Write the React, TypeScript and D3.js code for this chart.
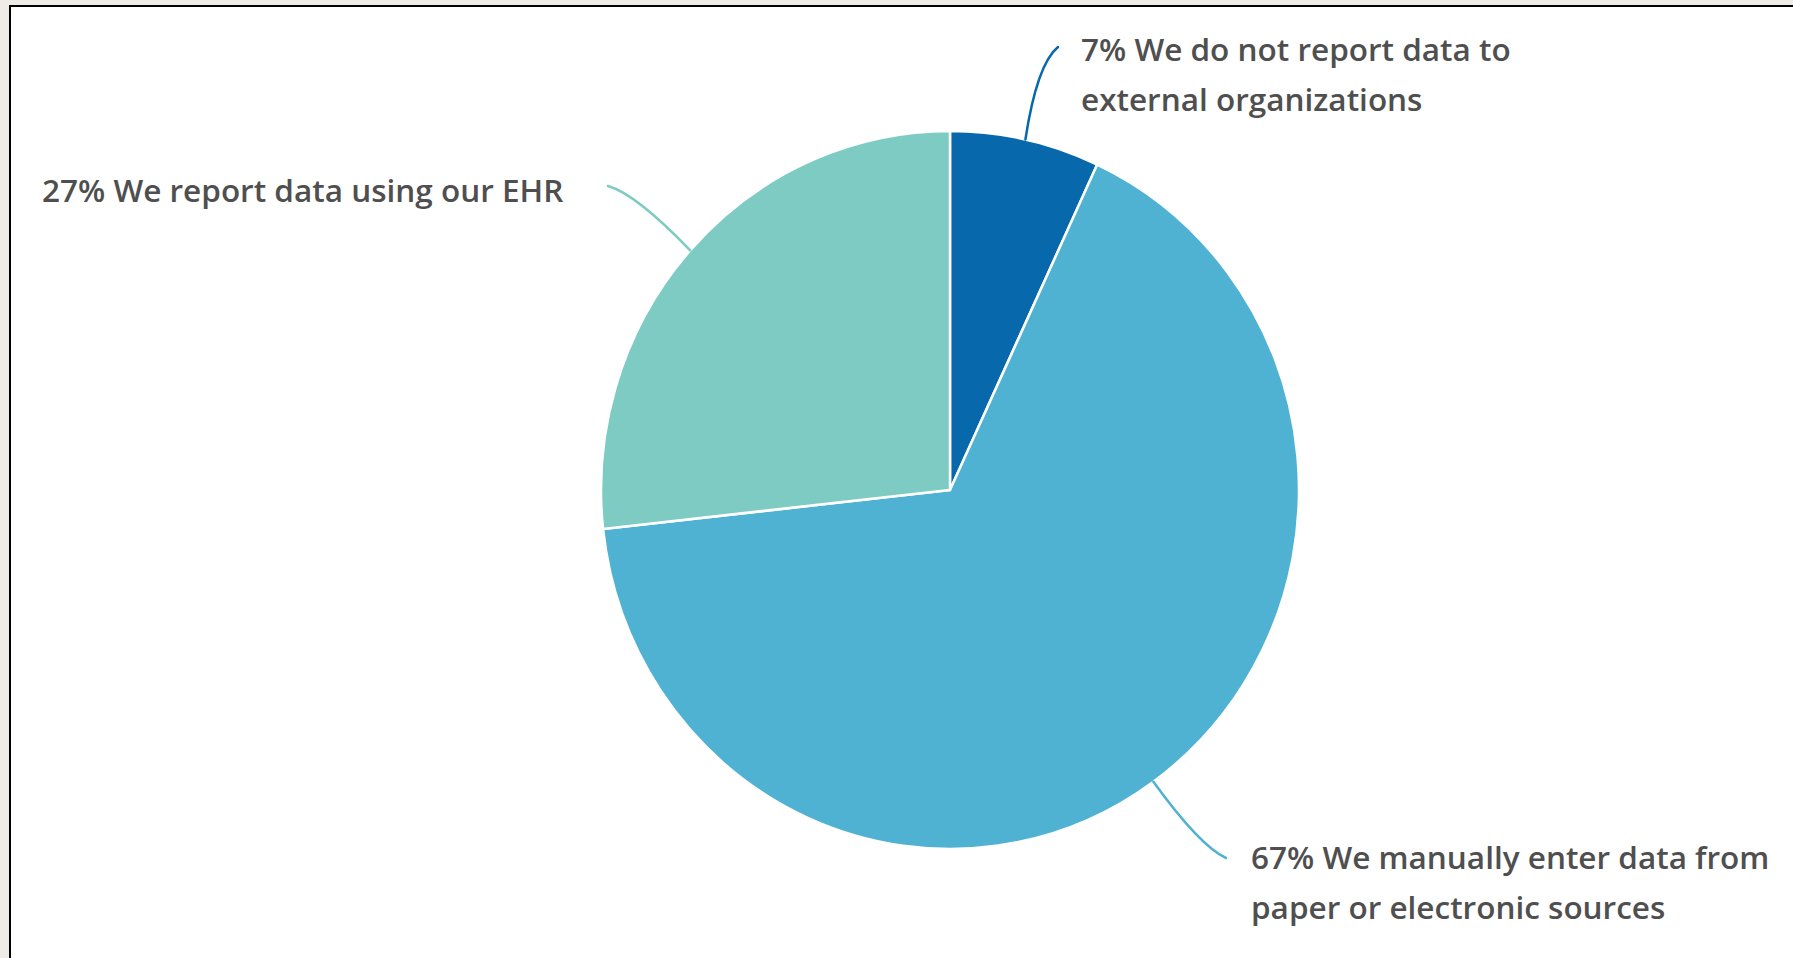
import React from "react";
import * as d3 from "d3";

const categories = [
  "We do not report data to external organizations",
  "We manually enter data from paper or electronic sources",
  "We report data using our EHR",
];
const values = [7, 67, 27];
const colors = ["#0868ac", "#4fb2d3", "#7ecbc4"];
const labelLines = [
  ["7% We do not report data to", "external organizations"],
  ["67% We manually enter data from", "paper or electronic sources"],
  ["27% We report data using our EHR"],
];

const W = 1793;
const H = 958;
const cx = 950;
const cy = 490;
const rx = 349;
const ry = 359;

// label anchor positions (text start, first baseline) and connector end points
const labelPos = [
  { x: 1081, y: 61, ex: 1058, ey: 47, kx: 1037, ky: 64 },
  { x: 1251, y: 869, ex: 1226, ey: 858, kx: 1200, ky: 846 },
  { x: 42, y: 202, ex: 608, ey: 186, kx: 636, ky: 194 },
];

export default function App() {
  const pie = d3.pie<number>().sort(null).value((d) => d);
  const arcs = pie(values);
  const arcGen = d3.arc<d3.PieArcDatum<number>>().innerRadius(0).outerRadius(rx);
  const sy = ry / rx;

  return (
    <svg
      width={W}
      height={H}
      style={{ position: "absolute", left: 0, top: 0, display: "block" }}
    >
      <rect x={0} y={0} width={W} height={H} fill="#efece8" />
      <rect x={9} y={5} width={W} height={H} fill="#000" />
      <rect x={11} y={7} width={W} height={H} fill="#fff" />
      <g transform={`translate(${cx},${cy}) scale(1,${sy})`}>
        {arcs.map((a, i) => (
          <path
            key={categories[i]}
            d={arcGen(a) || ""}
            fill={colors[i]}
            stroke="#fff"
            strokeWidth={2.5}
            strokeLinejoin="round"
          />
        ))}
      </g>
      {arcs.map((a, i) => {
        const mid = (a.startAngle + a.endAngle) / 2;
        const px = cx + rx * Math.sin(mid);
        const py = cy - ry * Math.cos(mid);
        const lp = labelPos[i];
        const path = d3.path();
        path.moveTo(px, py);
        path.quadraticCurveTo(lp.kx, lp.ky, lp.ex, lp.ey);
        return (
          <path
            key={"c" + i}
            d={path.toString()}
            fill="none"
            stroke={colors[i]}
            strokeWidth={2.5}
            strokeLinecap="round"
          />
        );
      })}
      {labelLines.map((lines, i) => (
        <text
          key={"t" + i}
          x={labelPos[i].x}
          y={labelPos[i].y}
          fill="#4f4f4f"
          fontFamily="'Open Sans', 'Noto Sans', sans-serif"
          fontWeight={600}
          fontSize={31.5}
        >
          {lines.map((l, j) => (
            <tspan key={j} x={labelPos[i].x} dy={j === 0 ? 0 : 50}>
              {l}
            </tspan>
          ))}
        </text>
      ))}
    </svg>
  );
}
